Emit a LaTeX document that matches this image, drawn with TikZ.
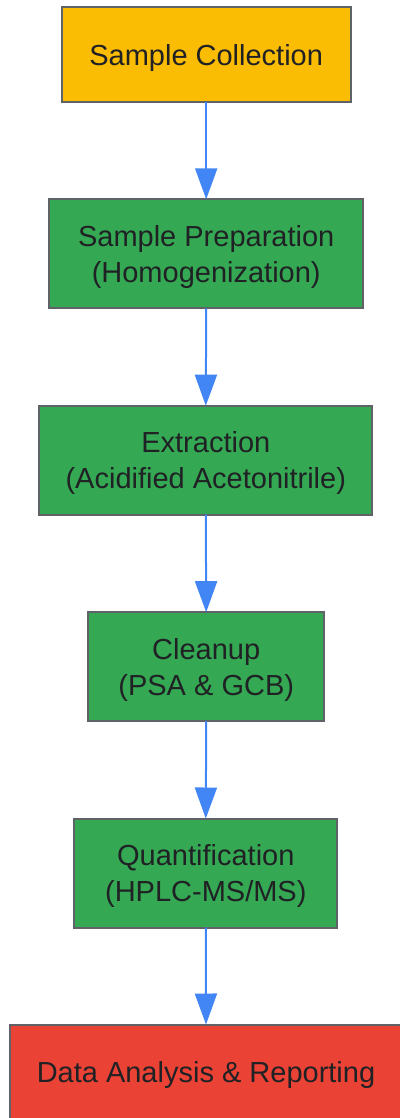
\documentclass[tikz,border=0pt]{standalone}
\usepackage{fontspec}
\setmainfont{Liberation Sans}
\usetikzlibrary{arrows.meta}
\definecolor{cyellow}{HTML}{FBBC04}
\definecolor{cgreen}{HTML}{34A853}
\definecolor{cred}{HTML}{EA4335}
\definecolor{cblue}{HTML}{4285F4}
\definecolor{cborder}{HTML}{5F6368}
\definecolor{ctext}{HTML}{202124}
\begin{document}
\begin{tikzpicture}[x=1pt,y=1pt,
  box/.style={draw=cborder, line width=2pt, rectangle, align=center, inner sep=0pt, outer sep=0pt,
    text=ctext, text depth=0pt, font=\fontsize{29}{36}\selectfont},
  flow/.style={draw=cblue, line width=2pt, -{Triangle[width=22pt,length=31pt]}, fill=cblue}
]
\useasboundingbox (0,0) rectangle (399,-1118);
\node[box, fill=cyellow, minimum width=289pt, minimum height=95pt] (n1) at (206.2,-55) {Sample Collection};
\node[box, fill=cgreen, minimum width=314pt, minimum height=109pt] (n2) at (206.2,-253.8) {Sample Preparation\\(Homogenization)};
\node[box, fill=cgreen, minimum width=333pt, minimum height=109pt] (n3) at (205.8,-460.2) {Extraction\\(Acidified Acetonitrile)};
\node[box, fill=cgreen, minimum width=236pt, minimum height=109pt] (n4) at (206.2,-666.7) {Cleanup\\(PSA \& GCB)};
\node[box, fill=cgreen, minimum width=263pt, minimum height=109pt] (n5) at (205.8,-873) {Quantification\\(HPLC-MS/MS)};
\node[box, fill=cred, minimum width=392pt, minimum height=95pt] (n6) at (206,-1072) {Data Analysis \& Reporting};
\draw[flow] (n1.south) -- (n2.north);
\draw[flow] (n2.south) -- (n3.north);
\draw[flow] (n3.south) -- (n4.north);
\draw[flow] (n4.south) -- (n5.north);
\draw[flow] (n5.south) -- (n6.north);
\end{tikzpicture}
\end{document}
